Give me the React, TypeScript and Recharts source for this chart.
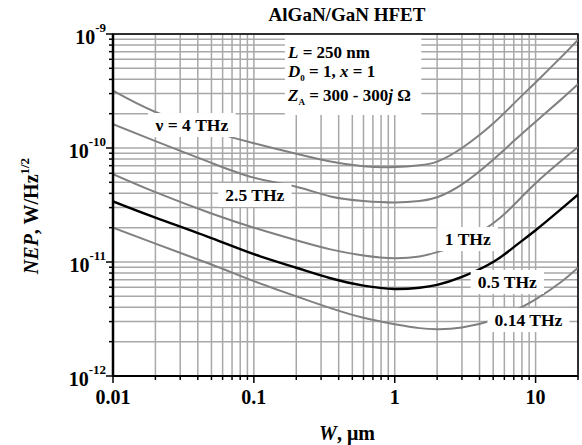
import React from 'react';
import {
  LineChart, Line, XAxis, YAxis, CartesianGrid, ReferenceArea, ReferenceDot,
} from 'recharts';

// ---- data ----
const W_VALUES = [0.01, 0.02, 0.05, 0.1, 0.2, 0.35, 0.6, 1, 1.5, 2, 3, 5, 7, 10, 15, 20];
const NEP_4THZ = [3.18e-10, 2.07e-10, 1.40e-10, 1.10e-10, 8.9e-11, 7.6e-11, 6.9e-11, 6.8e-11, 7.05e-11, 7.6e-11, 1.0e-10, 1.64e-10, 2.45e-10, 3.76e-10, 6.17e-10, 8.9e-10];
const NEP_2_5THZ = [1.62e-10, 1.15e-10, 7.4e-11, 5.5e-11, 4.57e-11, 3.76e-11, 3.43e-11, 3.33e-11, 3.43e-11, 3.7e-11, 4.79e-11, 7.9e-11, 1.15e-10, 1.7e-10, 2.63e-10, 3.63e-10];
const NEP_1THZ = [5.9e-11, 4.1e-11, 2.66e-11, 2.0e-11, 1.55e-11, 1.29e-11, 1.14e-11, 1.08e-11, 1.12e-11, 1.22e-11, 1.48e-11, 2.19e-11, 3.16e-11, 4.9e-11, 7.6e-11, 1.02e-10];
const NEP_0_5THZ = [3.4e-11, 2.45e-11, 1.62e-11, 1.17e-11, 8.9e-12, 7.2e-12, 6.2e-12, 5.8e-12, 5.95e-12, 6.3e-12, 7.4e-12, 1.0e-11, 1.35e-11, 1.9e-11, 2.88e-11, 3.9e-11];
const NEP_0_14THZ = [2.0e-11, 1.45e-11, 9.5e-12, 6.8e-12, 5.0e-12, 3.94e-12, 3.24e-12, 2.85e-12, 2.63e-12, 2.57e-12, 2.66e-12, 3.1e-12, 3.7e-12, 4.7e-12, 6.6e-12, 8.9e-12];

const X_TICKS = [
  0.01, 0.02, 0.03, 0.04, 0.05, 0.06, 0.07, 0.08, 0.09,
  0.1, 0.2, 0.3, 0.4, 0.5, 0.6, 0.7, 0.8, 0.9,
  1, 2, 3, 4, 5, 6, 7, 8, 9, 10, 20,
];
const Y_TICKS = [
  1e-12, 2e-12, 3e-12, 4e-12, 5e-12, 6e-12, 7e-12, 8e-12, 9e-12,
  1e-11, 2e-11, 3e-11, 4e-11, 5e-11, 6e-11, 7e-11, 8e-11, 9e-11,
  1e-10, 2e-10, 3e-10, 4e-10, 5e-10, 6e-10, 7e-10, 8e-10, 9e-10, 1e-9,
];

const CURVE_LABELS = [
  { text: 'ν = 4 THz', w: 0.0363, nep: 1.59e-10 },
  { text: '2.5 THz', w: 0.1016, nep: 3.87e-11 },
  { text: '1 THz', w: 3.3, nep: 1.59e-11 },
  { text: '0.5 THz', w: 6.3, nep: 6.68e-12 },
  { text: '0.14 THz', w: 8.9, nep: 3.1e-12 },
];

const data = W_VALUES.map((w, i) => ({
  w,
  f4: NEP_4THZ[i],
  f25: NEP_2_5THZ[i],
  f1: NEP_1THZ[i],
  f05: NEP_0_5THZ[i],
  f014: NEP_0_14THZ[i],
}));

const FONT = '"Liberation Serif", "Times New Roman", serif';
const GRID = '#a8a8a8';
const CURVE = '#808080';

const isDecade = (v: number) => Math.abs(Math.log10(v) - Math.round(Math.log10(v))) < 1e-6;

const XTick = (props: any) => {
  const { x, y, payload } = props;
  const v = payload.value;
  const major = isDecade(v);
  return (
    <g>
      <line x1={x} x2={x} y1={y} y2={y + (major ? 7 : 4)} stroke="#000" strokeWidth={1.5} />
      {major && (
        <text x={x} y={y + 28} textAnchor="middle" fontFamily={FONT} fontWeight="bold" fontSize={20} fill="#000">
          {String(v)}
        </text>
      )}
    </g>
  );
};

const YTick = (props: any) => {
  const { x, y, payload } = props;
  const v = payload.value;
  const major = isDecade(v);
  const exp = Math.round(Math.log10(v));
  return (
    <g>
      <line x1={x - (major ? 7 : 4)} x2={x} y1={y} y2={y} stroke="#000" strokeWidth={1.5} />
      {major && (
        <text x={x - 7} y={y + 9.5} textAnchor="end" fontFamily={FONT} fontWeight="bold" fontSize={20} fill="#000">
          <tspan>10</tspan>
          <tspan dy={-11.5} fontSize={13}>{String(exp)}</tspan>
        </text>
      )}
    </g>
  );
};

const charW = (c: string) => {
  if (c === ' ') return 0.25;
  if (c === '.') return 0.25;
  if (c === '=') return 0.57;
  if (c === 'T') return 0.667;
  if (c === 'H') return 0.778;
  if (c === 'z') return 0.444;
  return 0.5;
};

const makeLabelShape = (text: string) => (props: any) => {
  const { cx, cy } = props;
  const fs = 17.5;
  const tw = text.split('').reduce((s, c) => s + charW(c), 0) * fs;
  const bw = tw + 14;
  const bh = 24;
  return (
    <g>
      <rect x={cx - bw / 2} y={cy - bh / 2} width={bw} height={bh} fill="#fff" />
      <text x={cx} y={cy + 6} textAnchor="middle" fontFamily={FONT} fontWeight="bold" fontSize={fs} fill="#000">
        {text}
      </text>
    </g>
  );
};

export default function App() {
  return (
    <div style={{ position: 'absolute', left: 0, top: 0, width: 582, height: 445, background: '#fff' }}>
      <LineChart
        width={582}
        height={445}
        data={data}
        margin={{ top: 34, right: 4, bottom: 0, left: 0 }}
      >
        <CartesianGrid stroke={GRID} strokeWidth={1.5} />
        <XAxis
          dataKey="w"
          type="number"
          scale="log"
          domain={[0.01, 20]}
          ticks={X_TICKS}
          interval={0}
          allowDataOverflow
          height={69}
          tickSize={0}
          tickMargin={0}
          tickLine={false}
          tick={<XTick />}
          axisLine={{ stroke: '#000', strokeWidth: 2 }}
        />
        <YAxis
          type="number"
          scale="log"
          domain={[1e-12, 1e-9]}
          ticks={Y_TICKS}
          interval={0}
          allowDataOverflow
          width={113}
          tickSize={0}
          tickMargin={0}
          tickLine={false}
          tick={<YTick />}
          axisLine={{ stroke: '#000', strokeWidth: 2.5 }}
        />
        <ReferenceArea x1={0.166} x2={1.545} y1={1.95e-10} y2={1e-9} fill="#fff" fillOpacity={1} stroke="none" />
        <Line dataKey="f4" type="natural" stroke={CURVE} strokeWidth={2} dot={false} isAnimationActive={false} />
        <Line dataKey="f25" type="natural" stroke={CURVE} strokeWidth={2} dot={false} isAnimationActive={false} />
        <Line dataKey="f1" type="natural" stroke={CURVE} strokeWidth={2} dot={false} isAnimationActive={false} />
        <Line dataKey="f05" type="natural" stroke="#000" strokeWidth={2.4} dot={false} isAnimationActive={false} />
        <Line dataKey="f014" type="natural" stroke={CURVE} strokeWidth={2} dot={false} isAnimationActive={false} />
        {CURVE_LABELS.map((l) => (
          <ReferenceDot key={l.text} x={l.w} y={l.nep} r={0} shape={makeLabelShape(l.text)} />
        ))}
        <ReferenceArea x1={0.01} x2={20} y1={1e-12} y2={1e-9} fill="none" stroke="#000" strokeWidth={1.5} />
      </LineChart>
      <svg
        width={582}
        height={445}
        style={{ position: 'absolute', left: 0, top: 0, pointerEvents: 'none' }}
        fontFamily={FONT}
        fontWeight="bold"
      >
        <text x={347} y={21} textAnchor="middle" fontSize={19}>AlGaN/GaN HFET</text>
        <text x={288} y={58} fontSize={17}>
          <tspan fontStyle="italic">L</tspan> = 250 nm
        </text>
        <text x={288} y={77} fontSize={17}>
          <tspan fontStyle="italic">D</tspan>
          <tspan fontSize={9} dy={4}>0</tspan>
          <tspan dy={-4}> = 1, </tspan>
          <tspan fontStyle="italic">x</tspan> = 1
        </text>
        <text x={288} y={101} fontSize={17}>
          <tspan fontStyle="italic">Z</tspan>
          <tspan fontSize={9} dy={4}>A</tspan>
          <tspan dy={-4}> = 300 - 300</tspan>
          <tspan fontStyle="italic">j</tspan> Ω
        </text>
        <text transform="translate(38,216) rotate(-90)" textAnchor="middle" fontSize={20}>
          <tspan fontStyle="italic">NEP</tspan>, W/Hz
          <tspan fontSize={13} dy={-9}>1/2</tspan>
        </text>
        <text x={347} y={440} textAnchor="middle" fontSize={20}>
          <tspan fontStyle="italic">W</tspan>, μm
        </text>
      </svg>
    </div>
  );
}
